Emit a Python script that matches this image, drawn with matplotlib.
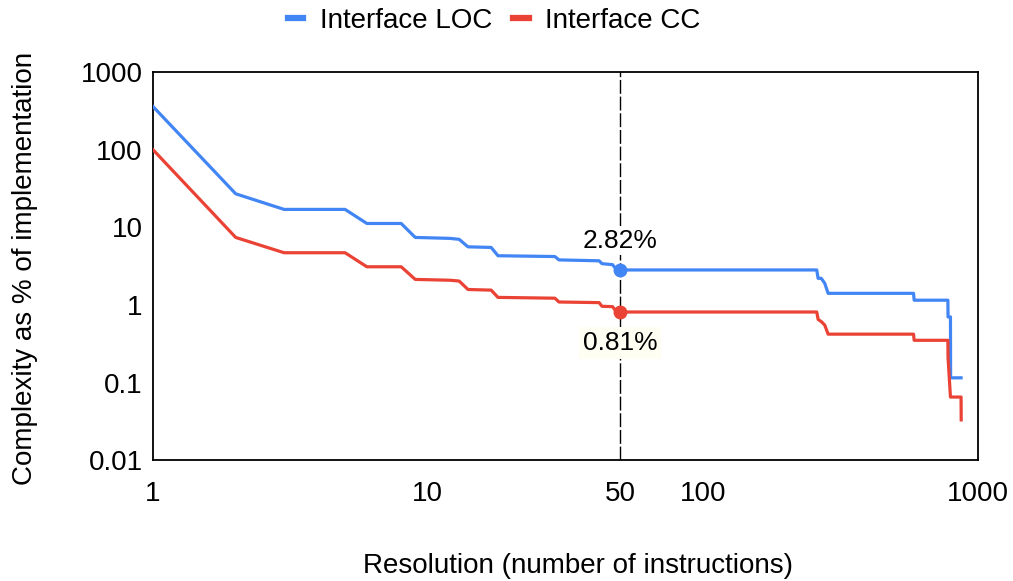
import numpy as np
import matplotlib.pyplot as plt

plt.rcParams['font.family'] = ['Liberation Sans', 'DejaVu Sans']

# resolution (number of instructions) and interface size as % of implementation
loc_x = [1, 2, 3, 5, 6, 8, 9, 12, 13, 14, 17, 18, 29, 30, 42, 43, 47, 48, 50,
         260, 263, 270, 278, 286, 585, 588, 780, 781, 797, 798, 871]
loc_y = [360, 27, 17, 17, 11.2, 11.2, 7.4, 7.2, 7.0, 5.6, 5.5, 4.3, 4.2, 3.8, 3.7, 3.4, 3.3, 3.0, 2.82,
         2.82, 2.2, 2.2, 1.9, 1.41, 1.41, 1.15, 1.15, 0.70, 0.70, 0.115, 0.115]

cc_x = [1, 2, 3, 5, 6, 8, 9, 12, 13, 14, 17, 18, 29, 30, 42, 43, 47, 48, 50,
        260, 263, 270, 278, 286, 585, 588, 780, 781, 797, 871, 872]
cc_y = [100, 7.4, 4.7, 4.7, 3.1, 3.1, 2.13, 2.08, 2.03, 1.58, 1.55, 1.25, 1.22, 1.09, 1.07, 0.96, 0.95, 0.86, 0.81,
        0.81, 0.65, 0.61, 0.55, 0.42, 0.42, 0.35, 0.35, 0.21, 0.065, 0.065, 0.033]

mark_x = 50
mark_loc = 2.82
mark_cc = 0.81

blue = '#4285F4'
red = '#EA4335'
fs = 20

fig = plt.figure(figsize=(10.13, 5.81), dpi=100)
ax = fig.add_axes([0.151, 0.208, 0.814, 0.668])

ax.axvline(mark_x, color='black', lw=1, dashes=(10, 2), zorder=1)
ax.plot(loc_x, loc_y, color=blue, lw=2.3, label='Interface LOC', zorder=3)
ax.plot(cc_x, cc_y, color=red, lw=2.3, label='Interface CC', zorder=3)
ax.plot([mark_x], [mark_loc], 'o', color=blue, ms=9, zorder=4)
ax.plot([mark_x], [mark_cc], 'o', color=red, ms=9, zorder=4)

ax.annotate(f'{mark_loc:.2f}%', (mark_x, mark_loc), xytext=(0, 21), textcoords='offset points',
            ha='center', va='center', fontsize=19,
            bbox=dict(boxstyle='square,pad=0.1', fc='white', ec='none'), zorder=5)
ax.annotate(f'{mark_cc:.2f}%', (mark_x, mark_cc), xytext=(0, -22), textcoords='offset points',
            ha='center', va='center', fontsize=19,
            bbox=dict(boxstyle='square,pad=0.15', fc='#FFFEF2', ec='none'), zorder=5)

ax.set_xscale('log')
ax.set_yscale('log')
ax.set_xlim(1, 1000)
ax.set_ylim(0.01, 1000)

xt = [1, 10, 50, 100, 1000]
yt = [0.01, 0.1, 1, 10, 100, 1000]
ax.set_xticks(xt)
ax.set_xticklabels([str(v) for v in xt])
ax.set_yticks(yt)
ax.set_yticklabels(['0.01', '0.1', '1', '10', '100', '1000'])
ax.minorticks_off()
ax.tick_params(axis='both', length=0, labelsize=fs)
ax.tick_params(axis='x', pad=15)
ax.tick_params(axis='y', pad=7.5)

for s in ax.spines.values():
    s.set_linewidth(1.3)

ax.set_xlabel('Resolution (number of instructions)', fontsize=fs, va='center')
ax.xaxis.set_label_coords(0.515, -0.272)
ax.set_ylabel('Complexity as % of implementation', fontsize=fs)
ax.yaxis.set_label_coords(-0.139, 0.495)

leg = fig.legend(loc='upper center', bbox_to_anchor=(0.488, 1.03), ncol=2, frameon=False,
                 fontsize=fs, handlelength=0.55, handletextpad=0.6, columnspacing=0.75)
for h in leg.get_lines():
    h.set_linewidth(4.5)

fig.savefig('out.png', dpi=100)
